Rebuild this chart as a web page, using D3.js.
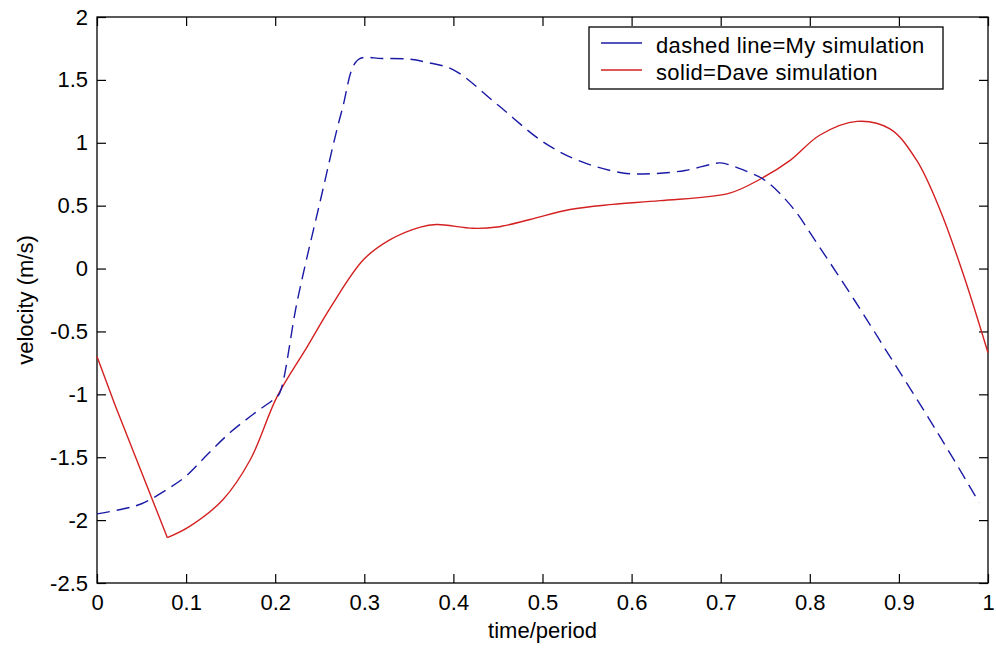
<!DOCTYPE html>
<html lang="en">
<head>
  <meta charset="UTF-8">
  <title>velocity vs time/period</title>
  <script src="https://d3js.org/d3.v7.min.js"></script>
  <style>
    body { margin: 0; background: #fff; }
    text { font-family: "Liberation Sans", Arial, sans-serif; fill: #000; }
  </style>
</head>
<body>
<div id="div_for_graph"></div>

<script>
// ====== DATA ======
var myTime = [0, 0.03, 0.05, 0.08, 0.1, 0.125, 0.15, 0.175, 0.2, 0.205, 0.225, 0.25, 0.275, 0.293,
              0.32, 0.35, 0.37, 0.4, 0.45, 0.5, 0.54, 0.59, 0.625, 0.66, 0.69, 0.7, 0.73, 0.75,
              0.78, 0.81, 0.85, 0.89, 0.93, 0.96, 0.99];
var myVelocity = [-1.95, -1.91, -1.87, -1.75, -1.65, -1.47, -1.30, -1.16, -1.03, -0.99, -0.25, 0.52, 1.26, 1.66,
                  1.67, 1.665, 1.64, 1.58, 1.30, 1.01, 0.86, 0.76, 0.755, 0.78, 0.83, 0.84, 0.77, 0.70,
                  0.49, 0.18, -0.25, -0.70, -1.15, -1.50, -1.86];

// Dave's curve: straight drop to the minimum, then smooth
var daveTime = [0, 0.02, 0.05, 0.079, 0.104, 0.141, 0.172, 0.202, 0.236, 0.262, 0.299, 0.329, 0.363,
                0.381, 0.422, 0.449, 0.486, 0.531, 0.579, 0.632, 0.71, 0.744, 0.778, 0.811, 0.853,
                0.89, 0.92, 0.946, 0.972, 1.0];
var daveVelocity = [-0.70, -1.08, -1.62, -2.14, -2.05, -1.84, -1.52, -1.02, -0.62, -0.31, 0.07, 0.23, 0.33,
                    0.35, 0.32, 0.33, 0.39, 0.47, 0.51, 0.54, 0.60, 0.71, 0.86, 1.06, 1.17,
                    1.11, 0.86, 0.47, -0.04, -0.67];
var daveMinIndex = 3;

var xTicks = [0, 0.1, 0.2, 0.3, 0.4, 0.5, 0.6, 0.7, 0.8, 0.9, 1];
var yTicks = [-2.5, -2, -1.5, -1, -0.5, 0, 0.5, 1, 1.5, 2];
var xTickLabels = ["0", "0.1", "0.2", "0.3", "0.4", "0.5", "0.6", "0.7", "0.8", "0.9", "1"];
var yTickLabels = ["-2.5", "-2", "-1.5", "-1", "-0.5", "0", "0.5", "1", "1.5", "2"];

var legendLabels = ["dashed line=My simulation", "solid=Dave simulation"];

// ====== INITIALIZE VARIABLES ======
var W = 996, H = 656;
var margin = {top: 17, right: 8, bottom: 73, left: 97},
    width = W - margin.left - margin.right,
    height = H - margin.top - margin.bottom;

var svg = d3.select("#div_for_graph")
  .append("svg")
    .attr("width", W)
    .attr("height", H)
  .append("g")
    .attr("transform", "translate(" + margin.left + "," + margin.top + ")");

var x = d3.scaleLinear().domain([0, 1]).range([0, width]);
var y = d3.scaleLinear().domain([-2.5, 2]).range([height, 0]);

// ====== AXES (ticks point inward, box on all sides) ======
function styleAxis(g) {
  g.select(".domain").remove();
  g.selectAll("line").attr("stroke", "#000").attr("stroke-width", 1.2);
  g.selectAll("text").style("font-size", "22px").attr("fill", "#000")
    .style("font-family", '"Liberation Sans", Arial, sans-serif');
}

svg.append("g")
  .attr("transform", "translate(0," + height + ")")
  .call(d3.axisBottom(x).tickValues(xTicks)
    .tickFormat(function(d, i) { return xTickLabels[i]; })
    .tickSizeInner(-9).tickSizeOuter(0).tickPadding(11))
  .call(styleAxis);

svg.append("g")
  .call(d3.axisLeft(y).tickValues(yTicks)
    .tickFormat(function(d, i) { return yTickLabels[i]; })
    .tickSizeInner(-9).tickSizeOuter(0).tickPadding(9))
  .call(styleAxis);

svg.append("g")
  .call(d3.axisTop(x).tickValues(xTicks).tickFormat("")
    .tickSizeInner(-9).tickSizeOuter(0))
  .call(styleAxis);

svg.append("g")
  .attr("transform", "translate(" + width + ",0)")
  .call(d3.axisRight(y).tickValues(yTicks).tickFormat("")
    .tickSizeInner(-9).tickSizeOuter(0))
  .call(styleAxis);

svg.append("rect")
  .attr("width", width)
  .attr("height", height)
  .attr("fill", "none")
  .attr("stroke", "#000")
  .attr("stroke-width", 1.3);

// ====== LINES ======
var smooth = d3.line()
  .x(function(d) { return x(d[0]); })
  .y(function(d) { return y(d[1]); })
  .curve(d3.curveCatmullRom.alpha(0.5));

var straight = d3.line()
  .x(function(d) { return x(d[0]); })
  .y(function(d) { return y(d[1]); });

var myData = myTime.map(function(t, i) { return [t, myVelocity[i]]; });
var daveData = daveTime.map(function(t, i) { return [t, daveVelocity[i]]; });

var redColor = "#d42020", blueColor = "#1a1aa6";

svg.append("path")
  .datum(daveData.slice(0, daveMinIndex + 1))
  .attr("d", straight)
  .attr("fill", "none")
  .attr("stroke", redColor)
  .attr("stroke-width", 1.4)
  .attr("stroke-linejoin", "round");

svg.append("path")
  .datum(daveData.slice(daveMinIndex))
  .attr("d", smooth)
  .attr("fill", "none")
  .attr("stroke", redColor)
  .attr("stroke-width", 1.4);

svg.append("path")
  .datum(myData)
  .attr("d", smooth)
  .attr("fill", "none")
  .attr("stroke", blueColor)
  .attr("stroke-width", 1.4)
  .attr("stroke-dasharray", "13,7");

// ====== AXIS LABELS ======
svg.append("text")
  .attr("x", width / 2)
  .attr("y", height + 55)
  .attr("text-anchor", "middle")
  .style("font-size", "22px")
  .text("time/period");

svg.append("text")
  .attr("transform", "translate(" + (33 - margin.left) + "," + (height / 2) + ") rotate(-90)")
  .attr("text-anchor", "middle")
  .style("font-size", "22px")
  .text("velocity (m/s)");

// ====== LEGEND ======
var legend = svg.append("g")
  .attr("transform", "translate(" + (589 - margin.left) + "," + (27 - margin.top) + ")");

legend.append("rect")
  .attr("width", 354)
  .attr("height", 62)
  .attr("fill", "#fff")
  .attr("stroke", "#000")
  .attr("stroke-width", 1.3);

var legendColors = [blueColor, redColor];
legendLabels.forEach(function(lbl, i) {
  var ly = 16 + i * 27;
  legend.append("line")
    .attr("x1", 12).attr("x2", 53)
    .attr("y1", ly).attr("y2", ly)
    .attr("stroke", legendColors[i])
    .attr("stroke-width", 1.4);
  legend.append("text")
    .attr("x", 67)
    .attr("y", ly + 10)
    .style("font-size", "22px")
    .style("letter-spacing", "0.35px")
    .text(lbl);
});
</script>
</body>
</html>
